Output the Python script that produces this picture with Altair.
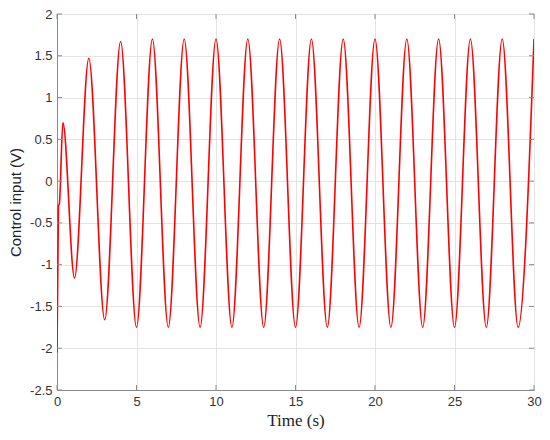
import altair as alt
import pandas as pd

# Control input samples (extrema and transient knots)
time_s = [0.0, 0.09, 0.15, 0.37, 1.1, 2.0, 3.0, 4.0, 5.0, 6.0, 7.0, 8.0, 9.0, 10.0,
          11.0, 12.0, 13.0, 14.0, 15.0, 16.0, 17.0, 18.0, 19.0, 20.0, 21.0, 22.0,
          23.0, 24.0, 25.0, 26.0, 27.0, 28.0, 29.0, 30.0]
control_v = [-2.05, -0.30, -0.27, 0.70, -1.16, 1.47, -1.66, 1.67, -1.75, 1.70, -1.75, 1.70,
             -1.75, 1.70, -1.75, 1.70, -1.75, 1.70, -1.75, 1.70, -1.75, 1.70, -1.75, 1.70,
             -1.75, 1.70, -1.75, 1.70, -1.75, 1.70, -1.75, 1.70, -1.75, 1.70]

x_ticks = [0, 5, 10, 15, 20, 25, 30]
y_ticks = [-2.5, -2, -1.5, -1, -0.5, 0, 0.5, 1, 1.5, 2]

W, H = 477, 376
TICK = 5
AXIS_GRAY = "#8a8a8a"

df = pd.DataFrame({"time": time_s, "u": control_v})
xt = pd.DataFrame({"time": x_ticks})
yt = pd.DataFrame({"u": y_ticks})

xscale = alt.Scale(domain=[0, 30], nice=False, zero=False)
yscale = alt.Scale(domain=[-2.5, 2], nice=False, zero=False)

xaxis = alt.Axis(title="Time (s)", values=x_ticks, ticks=False, labelPadding=5, labelFlush=False,
                 titleFont="Liberation Serif", titleFontSize=17, titleFontWeight="normal",
                 titlePadding=4, labelExpr="toString(datum.value)")
yaxis = alt.Axis(title="Control input (V)", values=y_ticks, ticks=False, labelPadding=5, labelFlush=False,
                 titleFont="Liberation Sans", titleFontSize=15, titleFontWeight="normal",
                 titlePadding=6, labelExpr="toString(datum.value)")

line = alt.Chart(df).mark_line(color="#ff0000", strokeWidth=1.6, interpolate="monotone", clip=True).encode(
    x=alt.X("time:Q", scale=xscale, axis=xaxis),
    y=alt.Y("u:Q", scale=yscale, axis=yaxis),
)

bottom_ticks = alt.Chart(xt).mark_rule(color=AXIS_GRAY, strokeWidth=1).encode(
    x=alt.X("time:Q", scale=xscale, axis=xaxis), y=alt.value(H), y2=alt.value(H - TICK))
top_ticks = alt.Chart(xt).mark_rule(color=AXIS_GRAY, strokeWidth=1).encode(
    x=alt.X("time:Q", scale=xscale, axis=xaxis), y=alt.value(0), y2=alt.value(TICK))
left_ticks = alt.Chart(yt).mark_rule(color=AXIS_GRAY, strokeWidth=1).encode(
    y=alt.Y("u:Q", scale=yscale, axis=yaxis), x=alt.value(0), x2=alt.value(TICK))
right_ticks = alt.Chart(yt).mark_rule(color=AXIS_GRAY, strokeWidth=1).encode(
    y=alt.Y("u:Q", scale=yscale, axis=yaxis), x=alt.value(W), x2=alt.value(W - TICK))

chart = alt.layer(line, bottom_ticks, top_ticks, left_ticks, right_ticks).properties(
    width=W, height=H,
    autosize=alt.AutoSizeParams(type="none"),
    padding={"left": 49, "top": 6, "right": 8, "bottom": 50},
    background="white",
).configure_view(
    stroke=AXIS_GRAY, strokeWidth=1
).configure_axis(
    labelFont="Liberation Sans", labelFontSize=13, labelColor="#333333",
    titleColor="#222222",
    domainColor=AXIS_GRAY, domainWidth=1,
    grid=True, gridColor="#e4e4e4", gridWidth=1,
)

chart.save("out.html", embed_options={"renderer": "svg", "actions": False})
